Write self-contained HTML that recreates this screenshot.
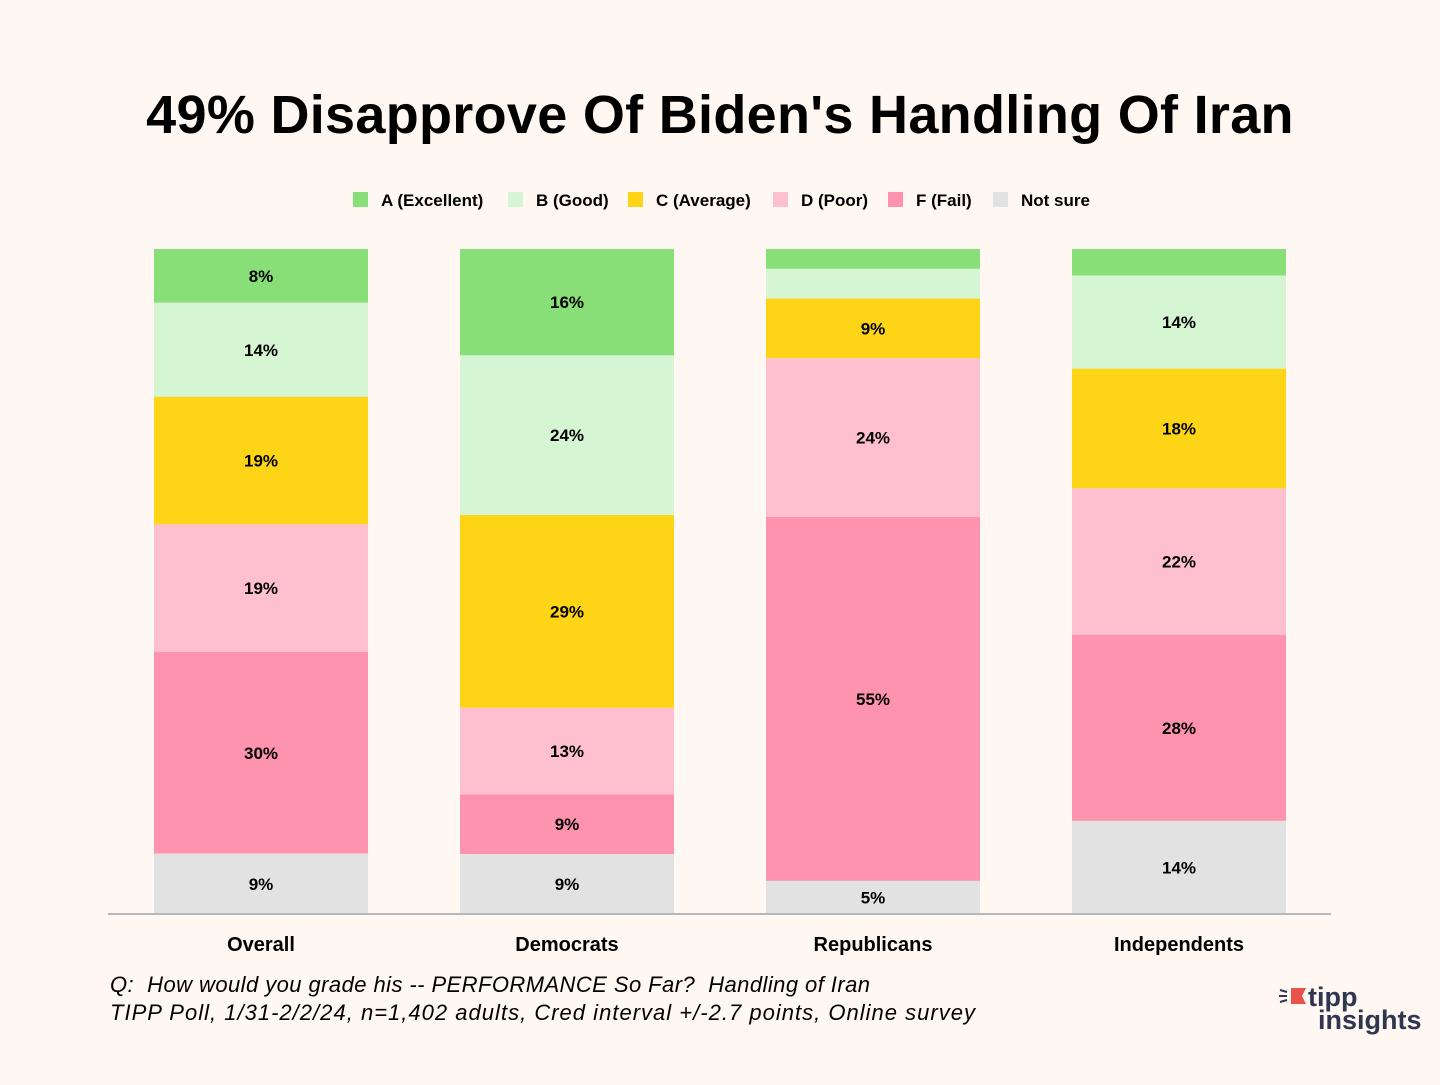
<!DOCTYPE html>
<html><head><meta charset="utf-8">
<style>
html,body{margin:0;padding:0;background:#fff7f1;}
body{width:1440px;height:1080px;overflow:hidden;font-family:"Liberation Sans",sans-serif;}
</style></head>
<body>
<svg id="chart" width="1440" height="1080" xmlns="http://www.w3.org/2000/svg" font-family="Liberation Sans, sans-serif">
<rect width="1440" height="1080" fill="#fff7f1"/>
<text x="720" y="133" text-anchor="middle" font-size="54" font-weight="bold" letter-spacing="0.3" fill="#000">49% Disapprove Of Biden's Handling Of Iran</text>
<g id="legend"></g>
<g id="bars"></g>
<line x1="108" y1="914" x2="1331" y2="914" stroke="#b8b8b8" stroke-width="2"/>
<g id="xlabels"></g>
<text x="110" y="992" font-size="22" font-style="italic" textLength="760" lengthAdjust="spacing" fill="#000" style="white-space:pre">Q:  How would you grade his -- PERFORMANCE So Far?  Handling of Iran</text>
<text x="110" y="1020" font-size="22" font-style="italic" textLength="865" lengthAdjust="spacing" fill="#000">TIPP Poll, 1/31-2/2/24, n=1,402 adults, Cred interval +/-2.7 points, Online survey</text>
<g>
<polygon points="1291,988 1306,988 1302,996 1306,1004 1291,1004" fill="#e8524a"/>
<line x1="1280" y1="990" x2="1287" y2="992" stroke="#2f3650" stroke-width="2"/>
<line x1="1279" y1="996" x2="1287" y2="996" stroke="#2f3650" stroke-width="2"/>
<line x1="1280" y1="1002" x2="1287" y2="1000" stroke="#2f3650" stroke-width="2"/>
<text x="1308" y="1006" font-size="27" font-weight="bold" fill="#2f3650">tipp</text>
<text x="1318" y="1029" font-size="27" font-weight="bold" fill="#2f3650">insights</text>
</g>
</svg>
<script>
const categories = ["Overall","Democrats","Republicans","Independents"];
const seriesNames = ["A (Excellent)","B (Good)","C (Average)","D (Poor)","F (Fail)","Not sure"];
const seriesA = [8,16,3,4];
const seriesB = [14,24,4.5,14];
const seriesC = [19,29,9,18];
const seriesD = [19,13,24,22];
const seriesF = [30,9,55,28];
const seriesNS = [9,9,5,14];
const showA = [1,1,0,0];
const showB = [1,1,0,1];
const colors = ["#88df77","#d5f5d3","#fdd516","#fec0cf","#fe93ad","#e2e2e2"];
const NS = "http://www.w3.org/2000/svg";
const series = [seriesA,seriesB,seriesC,seriesD,seriesF,seriesNS];
const showLabel = [showA,showB,[1,1,1,1],[1,1,1,1],[1,1,1,1],[1,1,1,1]];
const plotTop = 249, plotBottom = 914, step = 306, barW = 214, firstCenter = 261;
function xCenter(i){return firstCenter + i*step;}
const barsG = document.getElementById('bars');
const xl = document.getElementById('xlabels');
categories.forEach((c,i)=>{
  let total = 0; series.forEach(s=>total+=s[i]);
  const scale = (plotBottom-plotTop)/total;
  let y = plotTop;
  series.forEach((s,k)=>{
    const h = s[i]*scale;
    const r = document.createElementNS(NS,'rect');
    r.setAttribute('x', xCenter(i)-barW/2);
    r.setAttribute('y', y);
    r.setAttribute('width', barW);
    r.setAttribute('height', h);
    r.setAttribute('fill', colors[k]);
    
    
    barsG.appendChild(r);
    if(showLabel[k][i]){
      const t = document.createElementNS(NS,'text');
      t.setAttribute('x', xCenter(i));
      t.setAttribute('y', y+h/2+6);
      t.setAttribute('text-anchor','middle');
      t.setAttribute('font-size','17');
      t.setAttribute('font-weight','bold');
      t.textContent = Math.round(s[i])+'%';
      
      
      barsG.appendChild(t);
    }
    y += h;
  });
  const lt = document.createElementNS(NS,'text');
  lt.setAttribute('x', xCenter(i));
  lt.setAttribute('y', 951);
  lt.setAttribute('text-anchor','middle');
  lt.setAttribute('font-size','20');
  lt.setAttribute('font-weight','bold');
  lt.textContent = c;
  
  
  xl.appendChild(lt);
});
const legendX = [353,508,628,773,888,993];
const lg = document.getElementById('legend');
seriesNames.forEach((n,k)=>{
  const r = document.createElementNS(NS,'rect');
  r.setAttribute('x', legendX[k]); r.setAttribute('y', 192);
  r.setAttribute('width', 15); r.setAttribute('height', 15);
  r.setAttribute('fill', colors[k]);
  
  
  lg.appendChild(r);
  const t = document.createElementNS(NS,'text');
  t.setAttribute('x', legendX[k]+28); t.setAttribute('y', 206);
  t.setAttribute('font-size','17');
  t.setAttribute('font-weight','bold');
  t.textContent = n;
  
  
  lg.appendChild(t);
});
</script>
</body></html>
